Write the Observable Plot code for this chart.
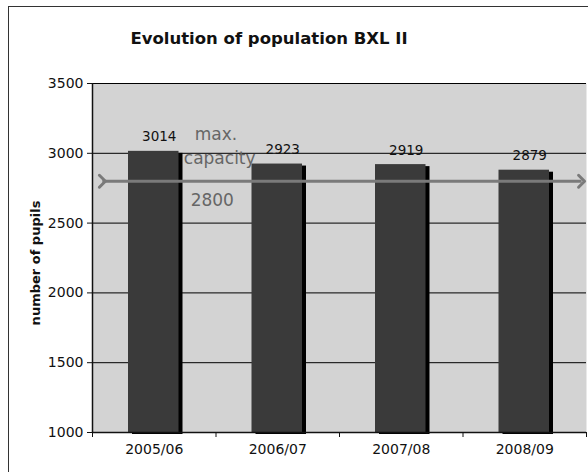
<!DOCTYPE html>
<html>
<head>
<meta charset="utf-8">
<script src="https://cdn.jsdelivr.net/npm/d3@7"></script>
<script src="https://cdn.jsdelivr.net/npm/@observablehq/plot@0.6"></script>
<style>
  html, body { margin: 0; padding: 0; background: #fff; }
  #wrap { position: relative; width: 588px; height: 472px; overflow: hidden; font-family: "DejaVu Sans", Verdana, sans-serif; }
  #frame { position: absolute; left: 8px; top: 6px; width: 600px; height: 500px; border-left: 1px solid #333; border-top: 1px solid #333; box-sizing: border-box; pointer-events: none; }
  #title { height: 66px; box-sizing: border-box; padding-top: 29px; padding-right: 50px; text-align: center; font-weight: bold; font-size: 16.5px; color: #111; }
  svg { display: block; }
</style>
</head>
<body>
<div id="wrap">
  <div id="frame"></div>
  <div id="title">Evolution of population BXL II</div>
  <div id="chart"></div>
</div>
<script>
const categories = ["2005/06", "2006/07", "2007/08", "2008/09"];
const pupils = [3014, 2923, 2919, 2879];
const capacity = 2800;
const capacityLines = ["max.", "capacity", "2800"];
const yTicks = [1000, 1500, 2000, 2500, 3000, 3500];
const yLabel = "number of pupils";

const data = categories.map((c, i) => ({ cat: c, i, value: pupils[i] }));

const chart = Plot.plot({
  width: 588,
  height: 406,
  marginLeft: 92,
  marginRight: 2,
  marginTop: 17,
  marginBottom: 40,
  style: { fontFamily: "DejaVu Sans, Verdana, sans-serif", fontSize: "14px", background: "transparent", color: "#111" },
  x: { domain: [0, categories.length], label: null },
  y: { domain: [1000, 3500], label: null },
  marks: [
    Plot.frame({ fill: "#d3d3d3", stroke: null }),
    Plot.gridY(yTicks, { stroke: "#000", strokeOpacity: 1, strokeWidth: 1 }),
    Plot.rectY(data, { x1: "i", x2: d => d.i + 1, y1: 1000, y2: "value", insetLeft: 36, insetRight: 37, fill: "#000", dx: 4, dy: 2 }),
    Plot.rectY(data, { x1: "i", x2: d => d.i + 1, y1: 1000, y2: "value", insetLeft: 36, insetRight: 37, fill: "#3a3a3a" }),
    Plot.text(data, { x: d => d.i + 0.5, y: "value", text: d => String(d.value), dx: 5, dy: -10, lineAnchor: "bottom", fill: "#111", fontSize: 13.5 }),
    Plot.link([capacity], { x1: 0.08, x2: 3.96, y1: d => d, y2: d => d, stroke: "#7a7a7a", strokeWidth: 3, markerStart: "arrow", markerEnd: "arrow" }),
    Plot.text([capacityLines[0]], { x: 1, y: capacity, text: d => d, dy: -47, fill: "#666", fontSize: 17 }),
    Plot.text([capacityLines[1]], { x: 1.03, y: capacity, text: d => d, dy: -23, fill: "#666", fontSize: 17 }),
    Plot.text([capacityLines[2]], { x: 0.97, y: capacity, text: d => d, dy: 19, fill: "#666", fontSize: 17 }),
    Plot.axisY(yTicks, { tickSize: 5, tickPadding: 4, fontSize: 14, label: null, tickFormat: d => String(d) }),
    Plot.text([yLabel], { frameAnchor: "left", textAnchor: "middle", rotate: -90, dx: -57, dy: 5, text: d => d, fontWeight: "bold", fontSize: 13, fill: "#111" }),
    Plot.ruleX([0], { stroke: "#111", strokeWidth: 1.5 }),
    Plot.ruleY([1000], { stroke: "#111", strokeWidth: 1.5 }),
    Plot.axisX([0, 1, 2, 3, 4], { tickSize: 5, tickFormat: () => "", label: null }),
    Plot.axisX(categories.map((c, i) => i + 0.5), { tickSize: 0, tickPadding: 12, fontSize: 14, tickFormat: d => categories[Math.floor(d)], label: null })
  ]
});

document.getElementById("chart").appendChild(chart);
</script>
</body>
</html>
